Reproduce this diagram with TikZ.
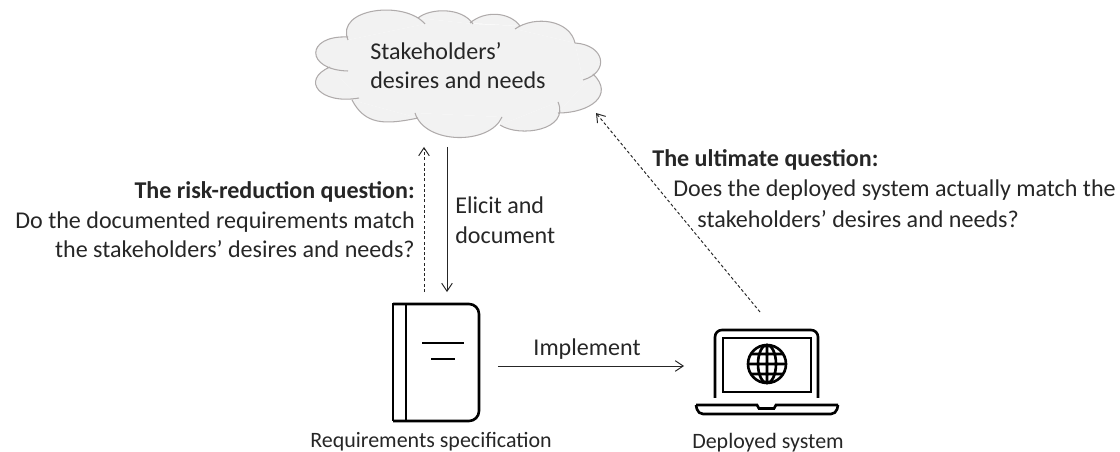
\documentclass[tikz,border=0pt]{standalone}
\usepackage{fontspec}
\setmainfont{Carlito}
\usepackage{pgf,tikz}
\usetikzlibrary{arrows.meta, positioning}
\definecolor{cloudfill}{HTML}{F2F2F2}
\definecolor{cloudline}{HTML}{AFABAB}
\definecolor{inktext}{HTML}{262626}
\newcommand{\cloudlobes}{(348,40) .. controls (335,8) and (405,0) .. (425,24)
	(418,18) .. controls (430,8) and (462,7) .. (473,24)
	(470,23) .. controls (485,10) and (510,12) .. (520,26)
	(515,29) .. controls (535,15) and (570,20) .. (575,43)
	(575,43) .. controls (605,45) and (610,72) .. (583,80)
	(593,74) .. controls (615,95) and (590,113) .. (558,113)
	(558,102) .. controls (570,130) and (520,138) .. (500,125)
	(502,117) .. controls (490,145) and (425,145) .. (415,113)
	(418,118) .. controls (385,125) and (365,125) .. (352,100)
	(359,98) .. controls (320,105) and (300,80) .. (330,67)
	(348,71) .. controls (305,70) and (305,35) .. (348,37)}
\tikzstyle{etiqueta} = [font=\fontsize{13.7pt}{16.8pt}\selectfont, text=inktext, inner sep=0pt]
\tikzstyle{pie} = [etiqueta, font=\fontsize{12.5pt}{15pt}\selectfont]
\tikzstyle{flecha} = [-{Straight Barb[length=4.5pt,width=6pt]}, draw=inktext, line width=0.55pt]
\tikzstyle{flechapunteada} = [flecha, dash pattern=on 1.7pt off 1.3pt]
\tikzstyle{icono} = [draw=black, line width=1.5pt]
\tikzstyle{hueco} = [inner sep=0pt, rectangle]
\begin{document}
\begin{tikzpicture}[x=0.02cm, y=-0.02cm]
	\useasboundingbox (0,0) rectangle (1120,452);
	% nube
	\fill[cloudfill] (348,40) -- (425,24) -- (418,18) -- (473,24) -- (520,26) -- (515,29) -- (575,43) -- (583,80) -- (593,74) -- (558,113) -- (558,102) -- (500,125) -- (502,117) -- (415,113) -- (418,118) -- (352,100) -- (359,98) -- (330,67) -- (348,71) -- cycle;
	\fill[cloudfill] \cloudlobes;
	\draw[cloudline, line width=0.6pt] \cloudlobes;
	\node [etiqueta, hueco, align=left, minimum height=2.86cm, outer ysep=0.2cm] (cloud) at (458,65.5) {Stakeholders’\\desires and needs};
	% libro
	\node [hueco, minimum width=1.72cm, minimum height=2.34cm, outer xsep=0.38cm, outer ysep=0.24cm] (book) at (436,362.5) {};
	\draw[icono, rounded corners=0.2cm] (393,304) -- (479,304) -- (479,421) -- (393,421);
	\draw[icono] (393,303.5) -- (393,421.5) (406,304) -- (406,421);
	\draw[icono] (422,343) -- (464,343) (431,359) -- (455,359);
	% portatil
	\node [hueco, minimum width=2.84cm, minimum height=1.68cm, outer xsep=0.24cm, outer ysep=0.36cm] (laptop) at (767,372) {};
	\draw[icono, rounded corners=0.14cm] (715,398) -- (715,330) -- (818,330) -- (818,398);
	\draw[icono] (723,338) rectangle (811,392);
	\draw[icono] (767,364) circle (19);
	\draw[icono] (767,364) ellipse (9 and 19) (767,345) -- (767,383) (748,364) -- (786,364) (751,354) -- (783,354) (751,374) -- (783,374);
	\draw[icono, rounded corners=0.1cm] (696,405) -- (698,414) -- (836,414) -- (838,405);
	\draw[icono] (838,405) -- (776,405) -- (774,408.5) -- (759,408.5) -- (757,405) -- (696,405);
	% textos
	\node [etiqueta, anchor=east, align=right] (riesgo) at (415,220) {\textbf{The risk-reduction question:}\\Do the documented requirements match\\the stakeholders’ desires and needs?};
	\node [etiqueta, anchor=west, align=left] (elicit) at (455,220) {Elicit and\\document};
	\node [etiqueta] (implement) at (587,349) {Implement};
	\node [etiqueta, anchor=west] (ultima) at (652,160) {\textbf{The ultimate question:}};
	\node [etiqueta, anchor=east] (pregunta) at (1116,190) {Does the deployed system actually match the};
	\node [etiqueta, anchor=west] (pregunta2) at (697,219) {stakeholders’ desires and needs?};
	\node [pie] (reqs) at (431,442) {Requirements specification};
	\node [pie] (deployed) at (768,443) {Deployed system};
	% flechas
	\coordinate (implrow) at (0,366);
	\coordinate (cloudtip) at (596,113);
	\coordinate (laptopbase) at (760,312);
	\draw[flechapunteada] ([xshift=-0.24cm]book.north) -- ([xshift=-0.24cm]book.north |- cloud.south);
	\draw[flecha] ([xshift=0.22cm]book.north |- cloud.south) -- ([xshift=0.22cm]book.north);
	\draw[flecha] (book.east |- implrow) -- (laptop.west |- implrow);
	\draw[flechapunteada] (laptopbase) -- (cloudtip);
\end{tikzpicture}
\end{document}
